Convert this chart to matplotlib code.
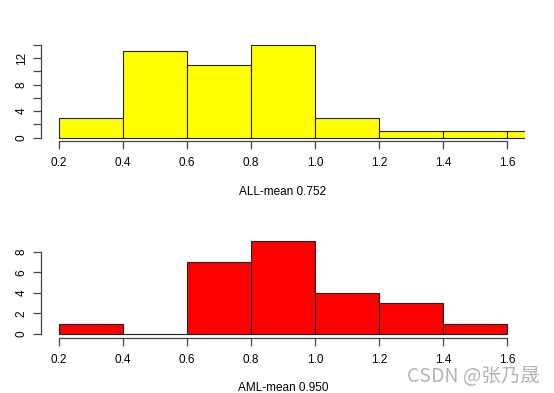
import matplotlib
matplotlib.use("Agg")
import matplotlib.pyplot as plt
import numpy as np

# histogram data (bin edges 0.2 wide)
bin_left = [0.2, 0.4, 0.6, 0.8, 1.0, 1.2, 1.4, 1.6]
all_counts = [3, 13, 11, 14, 3, 1, 1, 1]
aml_counts = [1, 0, 7, 9, 4, 3, 1]
all_label = "ALL-mean 0.752"
aml_label = "AML-mean 0.950"
x_ticks = [0.2, 0.4, 0.6, 0.8, 1.0, 1.2, 1.4, 1.6]
all_yticks = [0, 2, 4, 6, 8, 10, 12, 14]
all_ylabels = ["0", "", "4", "", "8", "", "12", ""]
aml_yticks = [0, 2, 4, 6, 8]

plt.rcParams['font.family'] = ['Liberation Sans', 'DejaVu Sans']

W, H = 554, 393
fig = plt.figure(figsize=(W / 100, H / 100), dpi=100)

axcol = "#444444"


def r_hist(ax, left, counts, color, ymax, yticks, ylabels, xlabel):
	ax.bar(left[:len(counts)], counts, width=0.2, align="edge",
	       color=color, edgecolor="#222222", linewidth=0.8)
	ax.set_xlim(0.144, 1.656)
	ax.set_ylim(-0.04 * ymax, ymax * 1.04)
	for s in ["top", "right"]:
		ax.spines[s].set_visible(False)
	ax.spines["left"].set_bounds(yticks[0], yticks[-1])
	ax.spines["bottom"].set_bounds(x_ticks[0], x_ticks[-1])
	for s in ["left", "bottom"]:
		ax.spines[s].set_color(axcol)
		ax.spines[s].set_linewidth(0.9)
	ax.set_xticks(x_ticks)
	ax.set_xticklabels([f"{t:.1f}" for t in x_ticks], fontsize=8.5)
	ax.set_yticks(yticks)
	ax.set_yticklabels(ylabels, fontsize=8.5, rotation=90, va="center")
	ax.tick_params(length=5.5, width=0.9, color=axcol)
	ax.tick_params(axis="x", pad=6)
	ax.tick_params(axis="y", pad=4)
	ax.set_xlabel(xlabel, fontsize=8.5, labelpad=12)
	ax.patch.set_visible(False)


ax1 = fig.add_axes([41 / W, (H - 141.4) / H, 484 / W, 100.4 / H])
r_hist(ax1, bin_left, all_counts, "#ffff00", 14, all_yticks, all_ylabels, all_label)

ax2 = fig.add_axes([41 / W, (H - 337.7) / H, 484 / W, 100 / H])
r_hist(ax2, bin_left, aml_counts, "#ff0000", 9, aml_yticks,
       [str(t) for t in aml_yticks], aml_label)

fig.text(407 / W, 1 - 376 / H, "CSDN @张乃晟", fontsize=14, color="#b4b4b4",
         va="center", ha="left", family=['Noto Sans CJK SC', 'DejaVu Sans'])

fig.savefig("out.png", dpi=100)
